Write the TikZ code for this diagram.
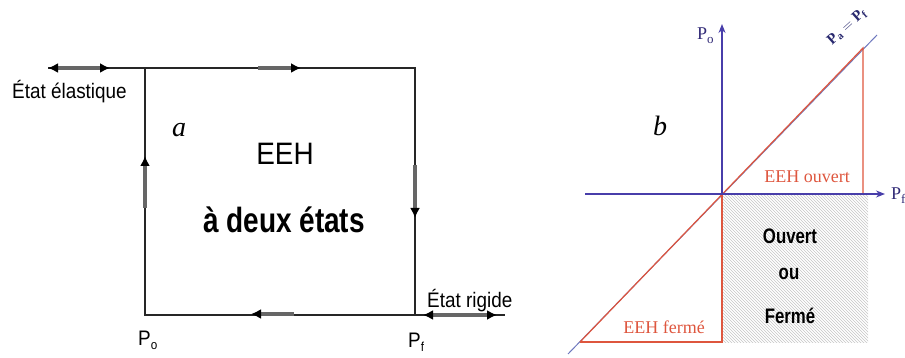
\documentclass[tikz,border=0pt]{standalone}
\usepackage{fontspec}
\setmainfont{Liberation Serif}
\newfontfamily\narrowsans[FakeStretch=0.9]{Liberation Sans}
\newfontfamily\heavysans[FakeStretch=0.8]{Liberation Sans}
\usetikzlibrary{arrows.meta,patterns}
\definecolor{axisblue}{RGB}{72,62,170}
\definecolor{eehred}{RGB}{222,86,62}
\definecolor{diagblue}{RGB}{110,120,190}
\definecolor{navytext}{RGB}{40,40,110}
\newcommand{\lowsub}[1]{\raisebox{-0.45ex}{\fontsize{13}{13}\selectfont #1}}

\begin{document}
\begin{tikzpicture}[x=1pt, y=-1pt,
    trait/.style={line width=1.3pt, black!85},
    fleche/.style={line width=3.4pt, black!60, -{Latex[length=10pt,width=10pt,black]}},
    doublefleche/.style={line width=3.4pt, black!60, {Latex[length=10pt,width=10pt,black]}-{Latex[length=10pt,width=10pt,black]}},
    etiquette/.style={font={\narrowsans\fontsize{21}{24}\selectfont}, inner sep=0pt},
    lettre/.style={font={\itshape\fontsize{28}{30}\selectfont}, inner sep=0pt},
    rouge/.style={font={\fontsize{18}{20}\selectfont}, text=eehred, inner sep=0pt},
    gras/.style={font={\heavysans\bfseries\fontsize{21}{24}\selectfont}, inner sep=0pt},
    axe/.style={axisblue, line width=1.3pt, -{Stealth[length=9pt,width=7pt]}}]
    \useasboundingbox (0,0) rectangle (905,358);

    % Cadre de l'EEH a deux etats
    \coordinate (hg) at (145,68);
    \coordinate (hd) at (415,68);
    \coordinate (bd) at (415,315);
    \coordinate (bg) at (145,315);
    \coordinate (gauche) at (48,68);
    \coordinate (droite) at (505,315);
    \draw[trait] (gauche) -- (hd) -- (bd) -- (droite);
    \draw[trait] (hg) -- (bg) -- (bd);

    % Sens de parcours du cycle
    \draw[doublefleche] (48,68) -- (110,68);
    \draw[fleche] (258,68) -- (301,68);
    \draw[fleche] (415,165) -- (415,218);
    \draw[fleche] (294,314) -- (251,314);
    \draw[fleche] (145,208) -- (145,156);
    \draw[doublefleche] (423,315) -- (497,315);

    % Textes de la figure a
    \node[etiquette, anchor=base west] (elastique) at (12,99) {État élastique};
    \node[etiquette, anchor=base west] (rigide) at (427,307) {État rigide};
    \node[etiquette, anchor=base west] (po) at (138,345) {P\lowsub{o}};
    \node[etiquette, anchor=base west] (pf) at (408,347) {P\lowsub{f}};
    \node[lettre] (a) at (179,130) {a};
    \node[font={\narrowsans\fontsize{31}{34}\selectfont}, anchor=base, inner sep=0pt] (eeh) at (285,165) {EEH};
    \node[font={\heavysans\bfseries\fontsize{35}{38}\selectfont}, anchor=base, inner sep=0pt] (deux) at (284,233) {à deux états};

    % Plan (Pf, Po) : zone hachuree
    \coordinate (o) at (722,194);
    \fill[pattern=north west lines, pattern color=gray!45] (o) rectangle (868,342);

    % Droite Pa = Pf
    \draw[diagblue, line width=1pt] (568,354) -- (877,35);
    \draw[eehred, line width=1.2pt] (580,342) -- (863,48) -- (863,194);
    \draw[eehred, line width=1.2pt] (o) -- (722,342) -- (580,342);

    % Axes
    \draw[axe] (585,194) -- (885,194);
    \draw[axe] (o) -- (722,24);

    % Textes de la figure b
    \node[font={\fontsize{18}{20}\selectfont}, text=axisblue!70!black, anchor=base west, inner sep=0pt] (poaxe) at (697,40) {P\lowsub{o}};
    \node[font={\fontsize{18}{20}\selectfont}, text=axisblue!70!black, anchor=base west, inner sep=0pt] (pfaxe) at (891,200) {P\lowsub{f}};
    \node[lettre] (b) at (660,126) {b};
    \node[font={\fontsize{15}{17}\selectfont}, text=navytext, rotate=42, inner sep=0pt] (egal) at (847,27) {$\mathbf{P_a = P_f}$};
    \node[rouge] (ouvert) at (807,177) {EEH ouvert};
    \node[rouge] (ferme) at (664,327) {EEH fermé};
    \node[gras] (ouv) at (790,236) {Ouvert};
    \node[gras] (ou) at (789,274) {ou};
    \node[gras] (fer) at (790,316) {Fermé};
\end{tikzpicture}
\end{document}
